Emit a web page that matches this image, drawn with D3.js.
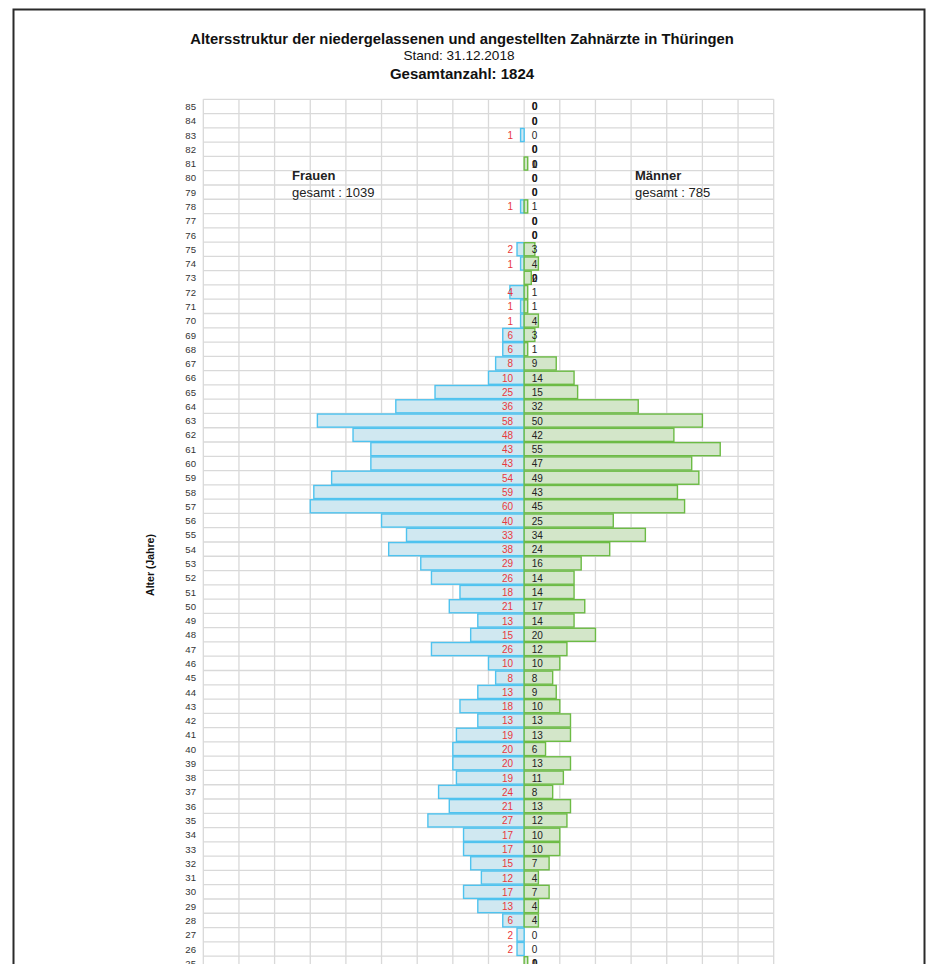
<!DOCTYPE html>
<html>
<head>
<meta charset="utf-8">
<script src="https://cdn.jsdelivr.net/npm/d3@7"></script>
<style>
  html, body { margin: 0; padding: 0; background: #fff; }
  svg { display: block; font-family: "Liberation Sans", Arial, sans-serif; }
</style>
</head>
<body>
<script>
// ---- Data ----
const ages = [85,84,83,82,81,80,79,78,77,76,75,74,73,72,71,70,69,68,67,66,65,64,63,62,61,60,59,58,57,56,55,54,53,52,51,50,49,48,47,46,45,44,43,42,41,40,39,38,37,36,35,34,33,32,31,30,29,28,27,26,25];
const women = [0,0,1,0,0,0,0,1,0,0,2,1,0,4,1,1,6,6,8,10,25,36,58,48,43,43,54,59,60,40,33,38,29,26,18,21,13,15,26,10,8,13,18,13,19,20,20,19,24,21,27,17,17,15,12,17,13,6,2,2,0];
const men   = [0,0,0,0,1,0,0,1,0,0,3,4,2,1,1,4,3,1,9,14,15,32,50,42,55,47,49,43,45,25,34,24,16,14,14,17,14,20,12,10,8,9,10,13,13,6,13,11,8,13,12,10,10,7,4,7,4,4,0,0,1];
const xTicks = [-90,-80,-70,-60,-50,-40,-30,-20,-10,0,10,20,30,40,50,60,70];
const titleText = "Altersstruktur der niedergelassenen und angestellten Zahnärzte in Thüringen";
const subText = "Stand: 31.12.2018";
const totalText = "Gesamtanzahl: 1824";
const groupNames = ["Frauen", "Männer"];
const groupTotals = ["gesamt : 1039", "gesamt : 785"];
const yAxisTitle = "Alter (Jahre)";

// ---- Layout ----
const W = 930, H = 964;
const svg = d3.select("body").append("svg").attr("width", W).attr("height", H);

svg.append("rect").attr("x", 13.5).attr("y", 9.5).attr("width", 911).attr("height", 1100)
  .attr("fill", "#fff").attr("stroke", "#2a2a2a").attr("stroke-width", 2);

const rowH = 14.28;
const plotTop = 99.3;
const x = d3.scaleLinear().domain([-90, 70]).range([203.3, 773.7]);
const y = d3.scaleBand().domain(ages).range([plotTop, plotTop + ages.length * rowH]);

// Titles
svg.append("text").attr("x", 462).attr("y", 43.5).attr("text-anchor", "middle")
  .attr("font-weight", "bold").attr("font-size", 14.8).attr("fill", "#111").text(titleText);
svg.append("text").attr("x", 459).attr("y", 59.5).attr("text-anchor", "middle")
  .attr("font-size", 13.6).attr("fill", "#111").text(subText);
svg.append("text").attr("x", 462).attr("y", 78.5).attr("text-anchor", "middle")
  .attr("font-weight", "bold").attr("font-size", 15).attr("fill", "#111").text(totalText);

// Grid
const grid = svg.append("g").attr("stroke", "#d9d9d9").attr("stroke-width", 1.3);
grid.selectAll("line.v").data(xTicks).join("line")
  .attr("x1", d => x(d)).attr("x2", d => x(d))
  .attr("y1", y.range()[0]).attr("y2", y.range()[1]);
grid.selectAll("line.h").data(ages).join("line")
  .attr("x1", x.range()[0]).attr("x2", x.range()[1])
  .attr("y1", d => y(d)).attr("y2", d => y(d));
grid.append("line").attr("x1", x.range()[0]).attr("x2", x.range()[1])
  .attr("y1", y.range()[1]).attr("y2", y.range()[1]);

// Age labels
svg.append("g").selectAll("text").data(ages).join("text")
  .attr("x", 196).attr("y", d => y(d) + y.bandwidth() / 2 + 3.6)
  .attr("text-anchor", "end").attr("font-size", 9.6).attr("fill", "#333")
  .text(d => d);

// Bars
const bh = y.bandwidth() - 1.2;
const rows = ages.map((a, i) => ({ age: a, w: women[i], m: men[i] }));
svg.append("g").selectAll("rect").data(rows.filter(d => d.w > 0)).join("rect")
  .attr("x", d => x(-d.w)).attr("width", d => x(0) - x(-d.w))
  .attr("y", d => y(d.age) + 0.6).attr("height", bh)
  .attr("fill", "#d0e8f1").attr("stroke", "#4fc3ef").attr("stroke-width", 1.4);
svg.append("g").selectAll("rect").data(rows.filter(d => d.m > 0)).join("rect")
  .attr("x", x(0)).attr("width", d => x(d.m) - x(0))
  .attr("y", d => y(d.age) + 0.6).attr("height", bh)
  .attr("fill", "#d3e6c9").attr("stroke", "#6cbb45").attr("stroke-width", 1.4);

// Value labels
const ly = d => y(d.age) + y.bandwidth() / 2 + 4;
svg.append("g").selectAll("text").data(rows.filter(d => d.w > 0)).join("text")
  .attr("x", x(0) - 11).attr("y", ly).attr("text-anchor", "end")
  .attr("font-size", 10).attr("fill", "#e8383d").text(d => d.w);
svg.append("g").selectAll("text").data(rows.filter(d => d.w === 0)).join("text")
  .attr("x", x(0) + 7.8).attr("y", ly)
  .attr("font-size", 10).attr("font-weight", "bold").attr("fill", "#111").text(d => d.w);
svg.append("g").selectAll("text").data(rows).join("text")
  .attr("x", x(0) + 7.5).attr("y", ly)
  .attr("font-size", 10).attr("fill", "#222").text(d => d.m);

// Group annotations
[[292, 0], [635, 1]].forEach(([gx, i]) => {
  svg.append("text").attr("x", gx).attr("y", 180).attr("font-size", 13)
    .attr("font-weight", "bold").attr("fill", "#222").text(groupNames[i]);
  svg.append("text").attr("x", gx).attr("y", 196.5).attr("font-size", 13)
    .attr("fill", "#222").text(groupTotals[i]);
});

// Y axis title
svg.append("text").attr("transform", "translate(153.5,565) rotate(-90)")
  .attr("text-anchor", "middle").attr("font-size", 10.5).attr("font-weight", "bold")
  .attr("fill", "#111").text(yAxisTitle);
</script>
</body>
</html>
